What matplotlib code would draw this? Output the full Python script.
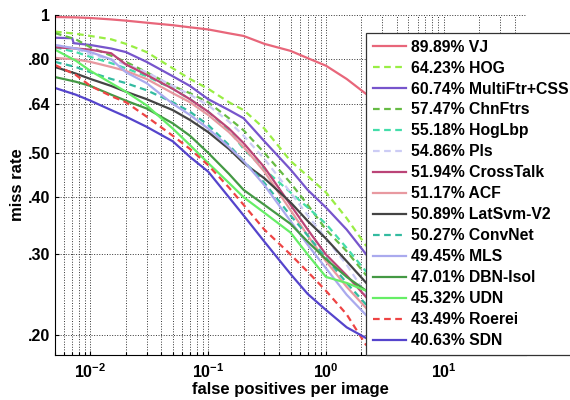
import matplotlib
matplotlib.use("Agg")
import matplotlib.pyplot as plt
from matplotlib.ticker import FixedLocator, NullFormatter, LogLocator

fppi = [0.005, 0.0075, 0.01, 0.015, 0.02, 0.03, 0.05, 0.07, 0.1,
        0.15, 0.2, 0.3, 0.5, 0.7, 1.0, 1.5, 2.2]
# MultiFtr+CSS has a sharp drop near the left edge
fppi_multiftr = [0.005, 0.007, 0.0072, 0.01, 0.015, 0.02, 0.03, 0.05, 0.07, 0.1,
                 0.15, 0.2, 0.3, 0.5, 0.7, 1.0, 1.5, 2.2]

names = ["VJ", "HOG", "MultiFtr+CSS", "ChnFtrs", "HogLbp", "Pls", "CrossTalk",
         "ACF", "LatSvm-V2", "ConvNet", "MLS", "DBN-Isol", "UDN", "Roerei", "SDN"]
scores = ["89.89%", "64.23%", "60.74%", "57.47%", "55.18%", "54.86%", "51.94%",
          "51.17%", "50.89%", "50.27%", "49.45%", "47.01%", "45.32%", "43.49%", "40.63%"]

vj = [0.99, 0.988, 0.985, 0.978, 0.972, 0.962, 0.95, 0.94, 0.93,
      0.912, 0.90, 0.865, 0.835, 0.805, 0.775, 0.725, 0.672]
hog = [0.92, 0.91, 0.90, 0.885, 0.865, 0.83, 0.765, 0.725, 0.69,
       0.645, 0.62, 0.565, 0.48, 0.445, 0.41, 0.36, 0.313]
multiftr = [0.892, 0.89, 0.868, 0.86, 0.845, 0.83, 0.79, 0.735, 0.70, 0.655,
            0.62, 0.595, 0.53, 0.46, 0.415, 0.38, 0.34, 0.30]
chnftrs = [0.913, 0.885, 0.85, 0.815, 0.79, 0.75, 0.70, 0.675, 0.645,
           0.595, 0.56, 0.50, 0.43, 0.385, 0.34, 0.305, 0.27]
hoglbp = [0.85, 0.83, 0.81, 0.785, 0.765, 0.735, 0.69, 0.655, 0.615,
          0.56, 0.51, 0.46, 0.41, 0.38, 0.35, 0.31, 0.275]
pls = [0.86, 0.845, 0.82, 0.80, 0.78, 0.75, 0.70, 0.67, 0.635,
       0.585, 0.545, 0.485, 0.41, 0.365, 0.325, 0.285, 0.245]
crosstalk = [0.85, 0.845, 0.84, 0.825, 0.78, 0.74, 0.69, 0.655, 0.615,
             0.565, 0.525, 0.465, 0.385, 0.34, 0.30, 0.27, 0.242]
acf = [0.806, 0.80, 0.79, 0.77, 0.755, 0.725, 0.675, 0.645, 0.605,
       0.555, 0.515, 0.455, 0.375, 0.33, 0.29, 0.255, 0.229]
latsvm = [0.77, 0.745, 0.725, 0.70, 0.68, 0.655, 0.62, 0.59, 0.555,
          0.51, 0.475, 0.44, 0.39, 0.355, 0.325, 0.29, 0.26]
convnet = [0.79, 0.77, 0.75, 0.725, 0.71, 0.685, 0.645, 0.615, 0.575,
           0.52, 0.48, 0.43, 0.365, 0.33, 0.295, 0.26, 0.233]
mls = [0.86, 0.845, 0.83, 0.80, 0.75, 0.71, 0.64, 0.605, 0.565,
       0.515, 0.48, 0.425, 0.355, 0.315, 0.28, 0.245, 0.221]
dbn = [0.732, 0.715, 0.70, 0.67, 0.65, 0.625, 0.58, 0.545, 0.50,
       0.45, 0.415, 0.385, 0.35, 0.32, 0.293, 0.268, 0.25]
udn = [0.84, 0.795, 0.755, 0.71, 0.68, 0.635, 0.565, 0.52, 0.475,
       0.43, 0.40, 0.37, 0.335, 0.30, 0.268, 0.26, 0.25]
roerei = [0.778, 0.74, 0.70, 0.665, 0.645, 0.60, 0.545, 0.51, 0.47,
          0.42, 0.385, 0.34, 0.30, 0.275, 0.25, 0.222, 0.19]
sdn = [0.693, 0.67, 0.65, 0.62, 0.60, 0.57, 0.53, 0.49, 0.455,
       0.40, 0.365, 0.32, 0.272, 0.246, 0.227, 0.208, 0.197]

series = [vj, hog, multiftr, chnftrs, hoglbp, pls, crosstalk, acf, latsvm,
          convnet, mls, dbn, udn, roerei, sdn]
colors = ["#E8667A", "#99EE44", "#7755CC", "#66BB44", "#44DDAA", "#CCCCF5",
          "#BB4477", "#E899A0", "#444444", "#33BBA0", "#AAAAEE", "#449944",
          "#66EE66", "#EE4444", "#5544CC"]
styles = ["-", "--", "-", "--", "--", "--", "-", "-", "-", "--", "-", "-",
          "-", "--", "-"]

yticks = [0.20, 0.30, 0.40, 0.50, 0.64, 0.80, 1.0]
ylabels = [".20", ".30", ".40", ".50", ".64", ".80", "1"]
xticks = [0.01, 0.1, 1, 10]
xlabels = [r"$\mathbf{10^{-2}}$", r"$\mathbf{10^{-1}}$", r"$\mathbf{10^{0}}$", r"$\mathbf{10^{1}}$"]

plt.rcParams['font.family'] = ['Liberation Sans', 'DejaVu Sans']
plt.rcParams['mathtext.fontset'] = 'custom'
plt.rcParams['mathtext.bf'] = 'Liberation Sans:bold'
plt.rcParams['mathtext.rm'] = 'Liberation Sans'

fig = plt.figure(figsize=(5.7, 4.0), dpi=100)
ax = fig.add_axes([55 / 570, 45 / 400, 471 / 570, 340 / 400])

handles = []
for y, c, ls, n, s in zip(series, colors, styles, names, scores):
    xs = fppi_multiftr if n == "MultiFtr+CSS" else fppi
    ln, = ax.plot(xs, y, color=c, ls=ls, lw=1.6, label=s + " " + n,
                  dashes=(3, 2) if ls == "--" else (None, None))
    handles.append(ln)

ax.set_xscale("log")
ax.set_yscale("log")
ax.set_xlim(0.005, 50)
ax.set_ylim(0.181, 1.0)

ax.yaxis.set_major_locator(FixedLocator(yticks))
ax.set_yticklabels(ylabels, fontweight="bold", fontsize=11.5)
ax.yaxis.set_minor_locator(FixedLocator([]))
ax.yaxis.set_minor_formatter(NullFormatter())

ax.xaxis.set_major_locator(FixedLocator(xticks))
ax.set_xticklabels(xlabels, fontsize=11.5)
ax.xaxis.set_minor_locator(LogLocator(base=10, subs=range(2, 10)))
ax.xaxis.set_minor_formatter(NullFormatter())

ax.grid(True, which="both", axis="x", ls=":", color="#333333", lw=0.7)
ax.grid(True, which="major", axis="y", ls=":", color="#333333", lw=0.7)
ax.tick_params(which="both", direction="in", length=3, width=0.8)
ax.tick_params(which="minor", length=2)
ax.tick_params(axis="x", pad=5)
for side in ["top", "right"]:
    ax.spines[side].set_visible(False)

ax.set_xlabel("false positives per image", fontweight="bold", fontsize=12, labelpad=1)
ax.set_ylabel("miss rate", fontweight="bold", fontsize=12, labelpad=2)

leg = fig.legend(handles=handles, loc="upper left",
                 bbox_to_anchor=(366 / 570, 1 - 33 / 400),
                 prop={"weight": "bold", "size": 11.3},
                 handlelength=2.1, handletextpad=0.32, borderpad=0.42,
                 labelspacing=0.38, borderaxespad=0, fancybox=False,
                 framealpha=1, edgecolor="#333333")
leg.get_frame().set_linewidth(0.9)

fig.savefig("out.png", dpi=100)
